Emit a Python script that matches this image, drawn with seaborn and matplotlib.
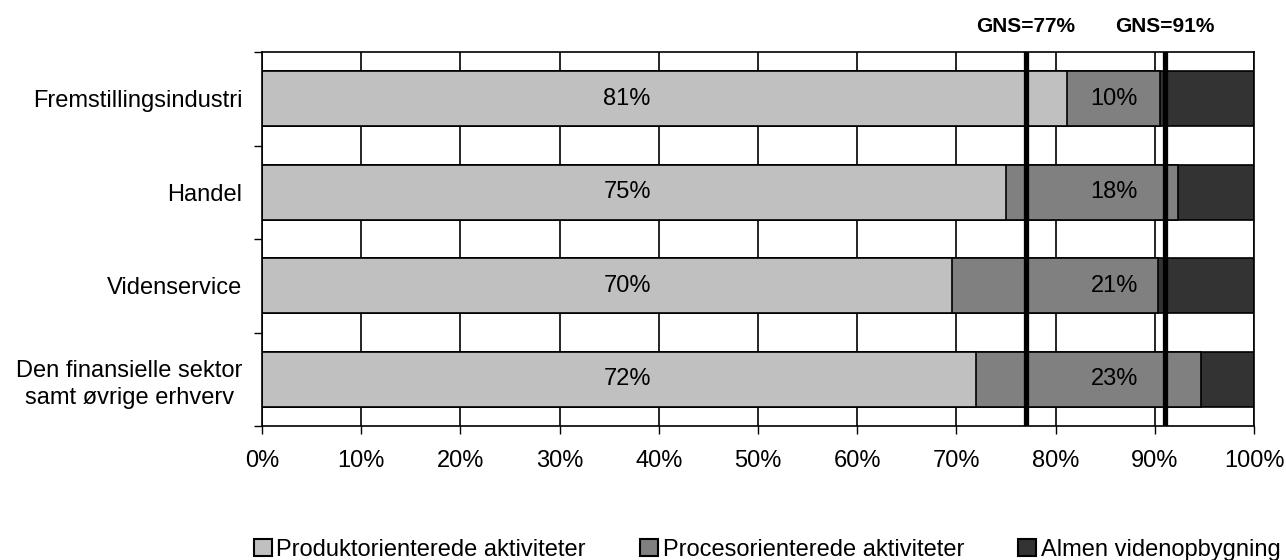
import matplotlib
matplotlib.use("Agg")
import matplotlib.pyplot as plt
import matplotlib.transforms as mtransforms
from matplotlib.patches import Patch
import seaborn as sns
import pandas as pd

# Data
sectors = ["Fremstillingsindustri", "Handel", "Videnservice",
           "Den finansielle sektor\nsamt øvrige erhverv"]
produkt = [81.1, 75.0, 69.6, 72.0]
proces = [9.4, 17.3, 20.7, 22.7]
almen = [9.5, 7.7, 9.7, 5.3]
produkt_labels = ["81%", "75%", "70%", "72%"]
proces_labels = ["10%", "18%", "21%", "23%"]
averages = [77, 91]
series_names = ["Produktorienterede aktiviteter", "Procesorienterede aktiviteter",
                "Almen videnopbygning"]
colors = ["#C0C0C0", "#808080", "#333333"]

sns.set_style("white")
plt.rcParams['font.family'] = ['Liberation Sans', 'DejaVu Sans']
plt.rcParams['font.size'] = 17
plt.rcParams['text.color'] = 'black'
plt.rcParams['xtick.color'] = 'black'
plt.rcParams['ytick.color'] = 'black'
plt.rcParams['axes.labelcolor'] = 'black'

df = pd.DataFrame({"sektor": sectors, "produkt": produkt, "proces": proces, "almen": almen})
df["c1"] = df["produkt"]
df["c2"] = df["produkt"] + df["proces"]
df["c3"] = df["c2"] + df["almen"]

fig = plt.figure(figsize=(12.86, 5.6), dpi=100)
ax = fig.add_axes([262 / 1286, 1 - 426 / 560, 992 / 1286, 374 / 560])

# stacked bars: draw cumulative totals from widest to narrowest
for col, color in zip(["c3", "c2", "c1"], colors[::-1]):
    sns.barplot(data=df, x=col, y="sektor", orient="h", color=color, saturation=1,
                edgecolor="black", linewidth=1.2, width=0.59, ax=ax, zorder=2)

ax.set_xlim(0, 100)
ax.set_ylim(3.5, -0.5)
ax.set_xticks(range(0, 101, 10))
ax.set_xticklabels([f"{v}%" for v in range(0, 101, 10)])
ax.set_xlabel("")
ax.set_ylabel("")

ax.set_axisbelow(True)
ax.xaxis.grid(True, color="black", linewidth=1.2, zorder=0)
ax.yaxis.grid(False)
for s in ax.spines.values():
    s.set_color("black")
    s.set_linewidth(1.2)
    s.set_visible(True)

ax.tick_params(axis="x", length=6, width=1, color="black", direction="out", pad=11,
               labelsize=17, labelcolor="black", bottom=True)
ax.tick_params(axis="y", which="major", length=0, pad=14, labelsize=17,
               labelcolor="black")
ax.set_yticks([-0.5, 0.5, 1.5, 2.5, 3.5], minor=True)
ax.tick_params(axis="y", which="minor", length=6, width=1, color="black",
               direction="out", left=True)
for lab in ax.get_yticklabels():
    lab.set_multialignment("center")
    lab.set_linespacing(1.3)

# average lines
trans = mtransforms.blended_transform_factory(ax.transData, ax.transAxes)
for v in averages:
    ax.axvline(v, color="black", linewidth=3.8, zorder=4)
    ax.text(v, 1.068, f"GNS={v}%", transform=trans, ha="center", va="center",
            fontsize=15, fontweight="bold", color="black")

# value labels
for i in range(len(sectors)):
    ax.text(36.8, i, produkt_labels[i], ha="center", va="center", fontsize=17,
            color="black", zorder=5)
    ax.text(85.9, i, proces_labels[i], ha="center", va="center", fontsize=17,
            color="black", zorder=5)

handles = [Patch(facecolor=c, edgecolor="black", linewidth=1.5) for c in colors]
fig.legend(handles, series_names, loc="center left",
           bbox_to_anchor=(254 / 1286, 1 - 550 / 560), ncol=3, frameon=False,
           fontsize=17, handlelength=0.75, handleheight=0.75, handletextpad=0.2,
           columnspacing=2.3, borderpad=0, borderaxespad=0, labelcolor="black")

fig.savefig("out.png", dpi=100)
